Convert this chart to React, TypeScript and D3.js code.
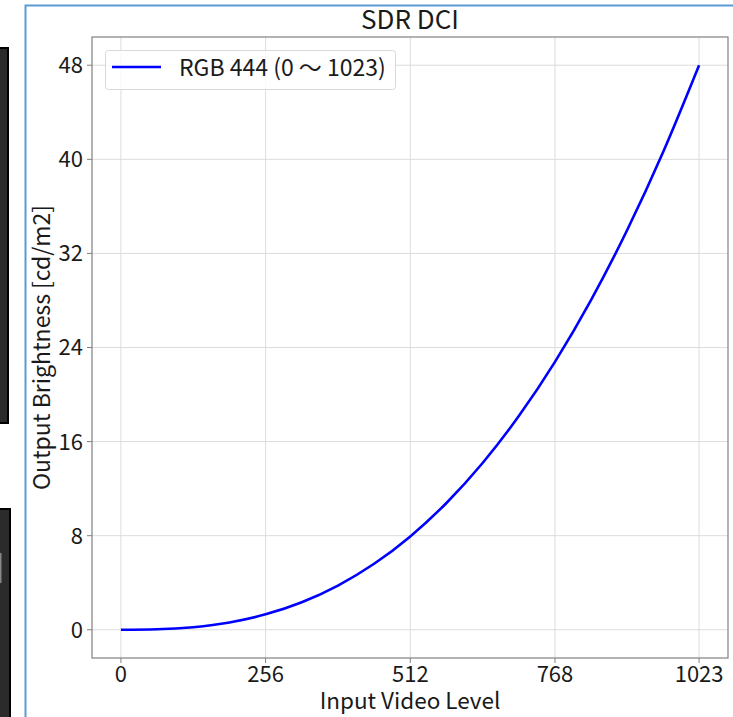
import React from "react";
import * as d3 from "d3";

// input video level (0..1023) and output brightness
const levels = [0, 64, 128, 192, 256, 320, 384, 448, 512, 576, 640, 704, 768, 832, 896, 960, 1023];
const brightness = [0, 0.04, 0.22, 0.62, 1.31, 2.34, 3.76, 5.61, 7.94, 10.78, 14.18, 18.17, 22.78, 28.05, 34.01, 40.69, 48];

const xTicks = [0, 256, 512, 768, 1023];
const yTicks = [0, 8, 16, 24, 32, 40, 48];

const title = "SDR DCI";
const seriesName = "RGB 444 (0 〜 1023)";
const xLabel = "Input Video Level";
const yLabel = "Output Brightness [cd/m2]";

const W = 733;
const H = 717;
const font = "'Noto Sans CJK JP', 'Noto Sans', sans-serif";

export default function App() {
  const plot = { left: 92, right: 728, top: 37, bottom: 658 };

  const x = d3.scaleLinear().domain([-51.15, 1074.15]).range([plot.left, plot.right]);
  const y = d3.scaleLinear().domain([-2.4, 50.4]).range([plot.bottom, plot.top]);

  const pts = levels.map((l, i) => [l, brightness[i]] as [number, number]);
  const line = d3
    .line<[number, number]>()
    .x((d) => x(d[0]))
    .y((d) => y(d[1]))
    .curve(d3.curveMonotoneX);

  return (
    <svg
      width={W}
      height={H}
      style={{ position: "fixed", left: 0, top: 0, background: "#fff" }}
      fontFamily={font}
    >
      {/* bits of the screenshot around the figure */}
      <rect x={-2} y={48} width={10} height={375} fill="#2b2b2b" stroke="#000" strokeWidth={2} />
      <rect x={-2} y={509} width={12} height={212} fill="#2b2b2b" stroke="#000" strokeWidth={2} />
      <rect x={0} y={553} width={1.5} height={30} fill="#888" />
      <path d="M25.5,720 V5.5 H740" fill="none" stroke="#5b9bd5" strokeWidth={2} />

      {/* grid */}
      {xTicks.map((t) => (
        <line key={"gx" + t} x1={x(t)} x2={x(t)} y1={plot.top} y2={plot.bottom} stroke="#dcdcdc" strokeWidth={1} />
      ))}
      {yTicks.map((t) => (
        <line key={"gy" + t} x1={plot.left} x2={plot.right} y1={y(t)} y2={y(t)} stroke="#dcdcdc" strokeWidth={1} />
      ))}

      <path d={line(pts) || ""} fill="none" stroke="#0000ff" strokeWidth={2.6} />

      {/* axes box */}
      <rect
        x={plot.left}
        y={plot.top}
        width={plot.right - plot.left}
        height={plot.bottom - plot.top}
        fill="none"
        stroke="#808080"
        strokeWidth={1.2}
      />

      {/* ticks */}
      {xTicks.map((t) => (
        <g key={"tx" + t} transform={`translate(${x(t)},${plot.bottom})`}>
          <line y2={5} stroke="#808080" />
          <text y={23.5} textAnchor="middle" fontSize={22} fill="#1a1a1a">
            {t}
          </text>
        </g>
      ))}
      {yTicks.map((t) => (
        <g key={"ty" + t} transform={`translate(${plot.left},${y(t)})`}>
          <line x2={-5} stroke="#808080" />
          <text x={-9} dy="0.36em" textAnchor="end" fontSize={22} fill="#1a1a1a">
            {t}
          </text>
        </g>
      ))}

      <text x={(plot.left + plot.right) / 2} y={29} textAnchor="middle" fontSize={26} fill="#1a1a1a">
        {title}
      </text>
      <text x={(plot.left + plot.right) / 2} y={709} textAnchor="middle" fontSize={22.5} fill="#1a1a1a">
        {xLabel}
      </text>
      <text
        transform={`translate(50,${(plot.top + plot.bottom) / 2}) rotate(-90)`}
        textAnchor="middle"
        fontSize={23}
        fill="#1a1a1a"
      >
        {yLabel}
      </text>

      {/* legend */}
      <rect x={105.5} y={50.5} width={290} height={39} rx={3} fill="#fff" fillOpacity={0.8} stroke="#d8d8d8" />
      <line x1={112} x2={161} y1={67} y2={67} stroke="#0000ff" strokeWidth={2.6} />
      <text x={179} y={68} dy="0.36em" fontSize={23} fill="#1a1a1a">
        {seriesName}
      </text>
    </svg>
  );
}
